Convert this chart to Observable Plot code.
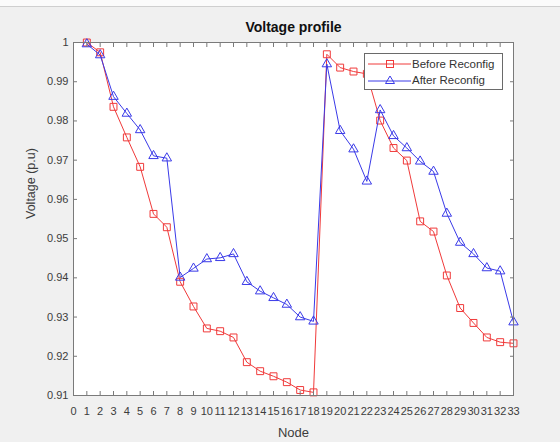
<!DOCTYPE html>
<html>
<head>
<meta charset="utf-8">
<script src="https://cdn.jsdelivr.net/npm/d3@7"></script>
<script src="https://cdn.jsdelivr.net/npm/@observablehq/plot@0.6"></script>
<style>
  html, body { margin: 0; padding: 0; background: #f0f0f0; }
  #wrap { position: relative; width: 560px; height: 442px; overflow: hidden; background: #f0f0f0; font-family: "Liberation Sans", Arial, sans-serif; }
  #topstrip { position: absolute; left: 0; top: 0; width: 560px; height: 6px; background: #fbfbfb; border-bottom: 1px solid #cfcfcf; }
  #legend { position: absolute; left: 364px; top: 53px; width: 137px; height: 35px; border: 1px solid #6a6a6a; background: #fff; }
  .row { position: absolute; left: 0; height: 16px; display: flex; align-items: center; font-size: 11.5px; color: #333; }
  .row svg { display: block; margin-right: 1px; }
</style>
</head>
<body>
<div id="wrap">
  <div id="topstrip"></div>
  <div id="chart"></div>
  <div id="legend">
    <div class="row" style="top:2px"><svg width="46" height="16"><line x1="3" y1="8" x2="46" y2="8" stroke="#f03a3a" stroke-width="1"/><rect x="21.5" y="4.5" width="7" height="7" fill="none" stroke="#f03a3a"/></svg><span>Before Reconfig</span></div>
    <div class="row" style="top:18px"><svg width="46" height="16"><line x1="3" y1="9" x2="46" y2="9" stroke="#3a3ae8" stroke-width="1"/><path d="M25,4 L29.5,11.5 L20.5,11.5 Z" fill="none" stroke="#3a3ae8"/></svg><span>After Reconfig</span></div>
  </div>
</div>
<script>
const nodes = d3.range(1, 34);
const before = [1.0, 0.9975, 0.9836, 0.9758, 0.9683, 0.9563, 0.9529, 0.9390, 0.9327, 0.9271, 0.9264, 0.9248, 0.9185, 0.9162, 0.9149, 0.9134, 0.9114, 0.9108,
                0.9970, 0.9936, 0.9926, 0.9920, 0.9801, 0.9731, 0.9699, 0.9544, 0.9518, 0.9406, 0.9323, 0.9285, 0.9248, 0.9236, 0.9233];
const after = [0.9996, 0.9968, 0.9862, 0.9819, 0.9777, 0.9711, 0.9705, 0.9401, 0.9424, 0.9448, 0.9451, 0.9461, 0.9390, 0.9366, 0.9349, 0.9332, 0.9300, 0.9289,
               0.9945, 0.9775, 0.9728, 0.9646, 0.9828, 0.9762, 0.9731, 0.9697, 0.9671, 0.9564, 0.9490, 0.9461, 0.9425, 0.9417, 0.9287];
const xTicks = d3.range(0, 34);
const yTicks = [0.91, 0.92, 0.93, 0.94, 0.95, 0.96, 0.97, 0.98, 0.99, 1];
const titleText = "Voltage profile";
const xLabel = "Node";
const yLabel = "Voltage (p.u)";

const dataBefore = nodes.map((n, i) => ({node: n, v: before[i]}));
const dataAfter = nodes.map((n, i) => ({node: n, v: after[i]}));

const red = "#f03a3a", blue = "#3a3ae8", axisColor = "#7a7a7a", txt = "#3c3c3c";
const fmtY = d => d === 1 ? "1" : d.toFixed(2);

const chart = Plot.plot({
  width: 560,
  height: 442,
  marginLeft: 73,
  marginRight: 47,
  marginTop: 42,
  marginBottom: 47,
  style: {background: "#f0f0f0", fontFamily: "Liberation Sans, Arial, sans-serif", fontSize: "11px", color: txt},
  x: {domain: [0, 33]},
  y: {domain: [0.91, 1]},
  marks: [
    Plot.frame({fill: "white", stroke: "none"}),
    Plot.line(dataBefore, {x: "node", y: "v", stroke: red, strokeWidth: 1}),
    Plot.dot(dataBefore, {x: "node", y: "v", symbol: "square", r: 3.9, stroke: red, fill: "none", strokeWidth: 1}),
    Plot.line(dataAfter, {x: "node", y: "v", stroke: blue, strokeWidth: 1}),
    Plot.dot(dataAfter, {x: "node", y: "v", symbol: "triangle", r: 3.5, stroke: blue, fill: "none", strokeWidth: 1}),
    Plot.frame({stroke: axisColor, strokeWidth: 1}),
    Plot.axisX({anchor: "bottom", ticks: xTicks, tickFormat: d => String(d), tickSize: -4, tickPadding: 16, label: null, stroke: axisColor, fill: txt}),
    Plot.axisX({anchor: "top", ticks: xTicks, tickFormat: () => "", tickSize: -4, label: null, stroke: axisColor}),
    Plot.axisY({anchor: "left", ticks: yTicks, tickFormat: fmtY, tickSize: -4, tickPadding: 9, label: null, stroke: axisColor, fill: txt}),
    Plot.axisY({anchor: "right", ticks: yTicks, tickFormat: () => "", tickSize: -4, label: null, stroke: axisColor}),
    Plot.text([titleText], {frameAnchor: "top", dy: -15, text: d => d, fontWeight: "bold", fontSize: 14, fill: "#111", lineAnchor: "middle"}),
    Plot.text([xLabel], {frameAnchor: "bottom", dy: 37, text: d => d, fontSize: 13, fill: txt, lineAnchor: "middle"}),
    Plot.text([yLabel], {frameAnchor: "left", dx: -43, rotate: -90, text: d => d, fontSize: 12.5, fill: txt, lineAnchor: "middle"})
  ]
});
document.getElementById("chart").appendChild(chart);
</script>
</body>
</html>
